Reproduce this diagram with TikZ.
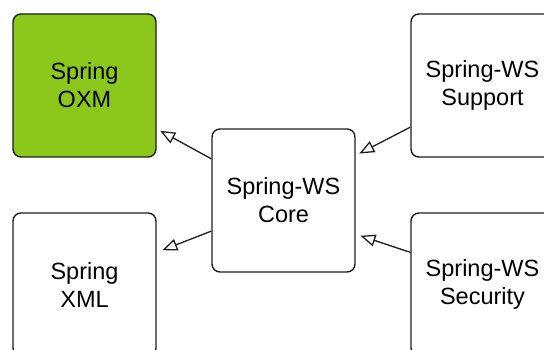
\documentclass[tikz,border=0pt]{standalone}
\usepackage{fontspec}
\setmainfont{Liberation Sans}
\usetikzlibrary{arrows.meta}
\definecolor{oxmgreen}{RGB}{140,200,28}
\definecolor{edgegray}{RGB}{30,30,30}
\tikzset{
  modbox/.style={draw=edgegray,line width=1.4pt,rounded corners=8pt,
    minimum width=143pt,minimum height=143pt,align=center,
    font=\fontsize{23.5}{28}\selectfont},
  dep/.style={draw=edgegray,line width=1.3pt,
    -{Triangle[open,length=15pt,width=12pt,line width=1.3pt]}}
}
\begin{document}
\begin{tikzpicture}[x=1pt,y=-1pt]
\useasboundingbox (0,0) rectangle (544,350);
\clip (0,0) rectangle (544,350);
\node[modbox,fill=oxmgreen] (oxm) at (84.5,85.5) {Spring\\OXM};
\node[modbox] (xml) at (84.5,284.5) {Spring\\XML};
\node[modbox] (core) at (283.5,200.5) {Spring-WS\\Core};
\node[modbox] (support) at (482.5,85.5) {Spring-WS\\Support};
\node[modbox] (security) at (482.5,284.5) {Spring-WS\\Security};
% dependencies
\draw[dep,shorten >=4pt] (core.150) -- (oxm.-31);
\draw[dep,shorten >=6pt] (core.203) -- (xml.24);
\draw[dep,shorten >=4pt] (support.210) -- (core.32);
\draw[dep,shorten >=5pt] (security.156) -- (core.-25);
\end{tikzpicture}
\end{document}
